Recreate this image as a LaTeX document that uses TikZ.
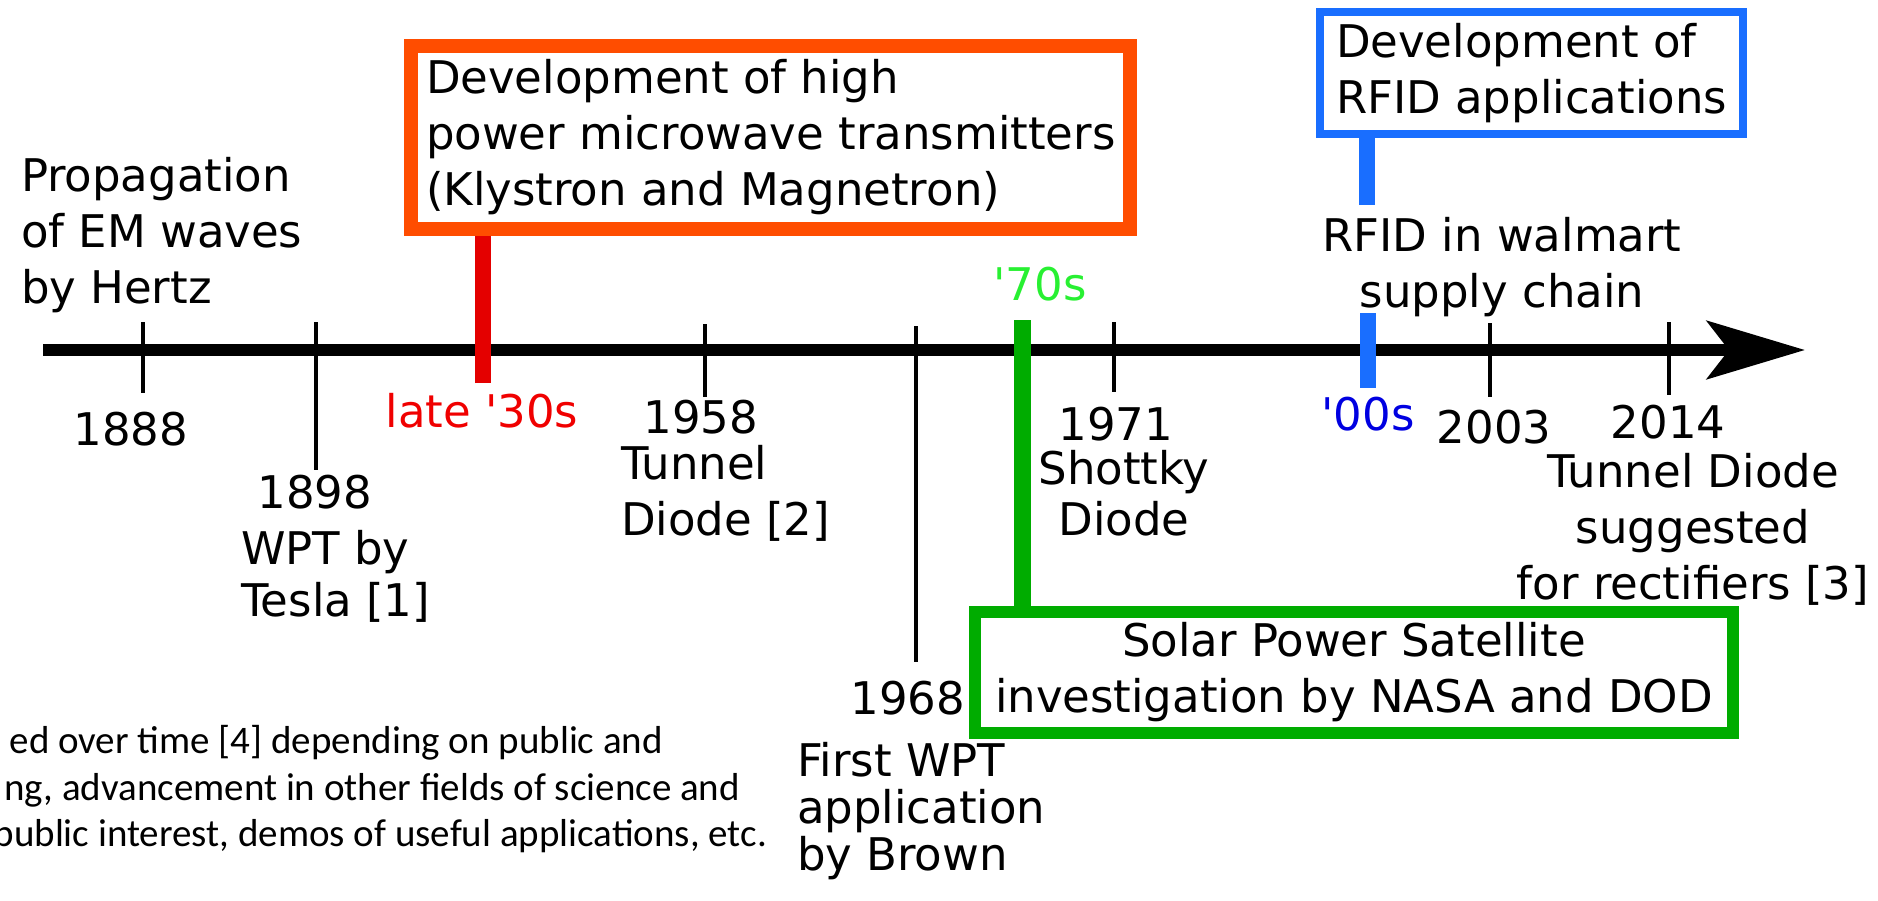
\documentclass[tikz,border=0pt]{standalone}
\usepackage{fontspec}
\setmainfont{DejaVu Sans}
\newfontfamily\notefont{Carlito}
\usetikzlibrary{arrows.meta}

\definecolor{boxorange}{RGB}{255,77,0}
\definecolor{barred}{RGB}{228,0,0}
\definecolor{txtred}{RGB}{240,0,0}
\definecolor{boxgreen}{RGB}{0,172,0}
\definecolor{txtgreen}{RGB}{40,240,50}
\definecolor{boxblue}{RGB}{25,110,255}
\definecolor{txtblue}{RGB}{0,0,225}

\begin{document}
\begin{tikzpicture}[x=1pt,y=-1pt,
  every node/.style={inner sep=0pt, outer sep=0pt, font=\fontsize{45}{56}\selectfont},
  yearlbl/.style={anchor=north},
  desc/.style={align=#1},
  evbox/.style={draw=#1, fill=white, align=left, anchor=north west},
  tickline/.style={line width=3.5pt},
  evbar/.style={line width=16pt, draw=#1},
  note/.style={anchor=base east, font=\notefont\fontsize{39}{47}\selectfont}]
\useasboundingbox (0,0) rectangle (1878,900);
\clip (0,0) rectangle (1878,900);

\node[evbox=boxorange, line width=14pt, inner xsep=15pt, inner ysep=13.5pt] (microbox) at (411,46)
  {Development of high\\power microwave transmitters\\(Klystron and Magnetron)};
\node[evbox=boxblue, line width=8pt, inner xsep=16pt, inner ysep=11pt] (rfidbox) at (1320,12)
  {Development of\\RFID applications};
\node[evbox=boxgreen, line width=12pt, inner xsep=20pt, inner ysep=10.5pt, align=center] (solarbox) at (975,612)
  {Solar Power Satellite\\investigation by NASA and DOD};

\node[desc=left, anchor=north west] (hertz) at (21,157) {Propagation\\of EM waves\\by Hertz};
\node[yearlbl] (y1888) at (131,412) {1888};
\node[yearlbl] (y1898) at (315,475) {1898};
\node[desc=left, anchor=north west, font=\fontsize{45}{52}\selectfont] (tesla) at (241,530) {WPT by\\Tesla [1]};
\node[yearlbl, text=txtred] (late30) at (482,393) {late \textquotesingle 30s};
\node[yearlbl] (y1958) at (701,400) {1958};
\node[desc=left, anchor=north west] (tunnel) at (621,445) {Tunnel\\Diode [2]};
\node[yearlbl] (y1968) at (908,681) {1968};
\node[desc=left, anchor=north west, font=\fontsize{45}{47}\selectfont] (brown) at (797,742) {First WPT\\application\\by Brown};
\node[yearlbl, text=txtgreen] (sev) at (1040,267) {\textquotesingle 70s};
\node[yearlbl] (y1971) at (1116,407) {1971};
\node[desc=center, anchor=north, font=\fontsize{45}{51}\selectfont] (shottky) at (1124,450) {Shottky\\Diode};
\node[yearlbl, text=txtblue] (noughts) at (1368,397) {\textquotesingle 00s};
\node[yearlbl] (y2003) at (1494,410) {2003};
\node[yearlbl] (y2014) at (1668,405) {2014};
\node[desc=center, anchor=north] (rectif) at (1693,453) {Tunnel Diode\\suggested\\for rectifiers [3]};
\node[desc=center, anchor=north] (walmart) at (1502,217) {RFID in walmart\\supply chain};

\node[note] (note1) at (663,753) {ed over time [4] depending on public and};
\node[note] (note2) at (740,800) {ng, advancement in other fields of science and};
\node[note] (note3) at (767,846) {public interest, demos of useful applications, etc.};

\coordinate (axstart) at (43,350);
\coordinate (axend) at (1805,350);
\draw[line width=12pt, -{Stealth[length=98pt, width=58pt, inset=22pt]}] (axstart) -- (axend);

\foreach \x/\ya/\yb in {143/322/393, 316/322/470, 705/324/397, 916/326/662, 1114/322/392, 1490/323/397, 1669/322/395}
{
  \draw[tickline] (\x,\ya) -- (\x,\yb);
}

\coordinate (bar30) at (483,383);
\coordinate (bar70) at (1022,320);
\coordinate (bar00a) at (1368,313);
\coordinate (bar00b) at (1368,388);
\coordinate (barrfid) at (1367,205);
\draw[evbar=barred] (bar30) -- ([yshift=-7pt]bar30 |- microbox.south);
\draw[evbar=boxgreen, line width=17pt] (bar70) -- ([yshift=6pt]bar70 |- solarbox.north);
\draw[evbar=boxblue] (bar00a) -- (bar00b);
\draw[evbar=boxblue] (barrfid) -- ([yshift=-4pt]barrfid |- rfidbox.south);
\end{tikzpicture}
\end{document}
